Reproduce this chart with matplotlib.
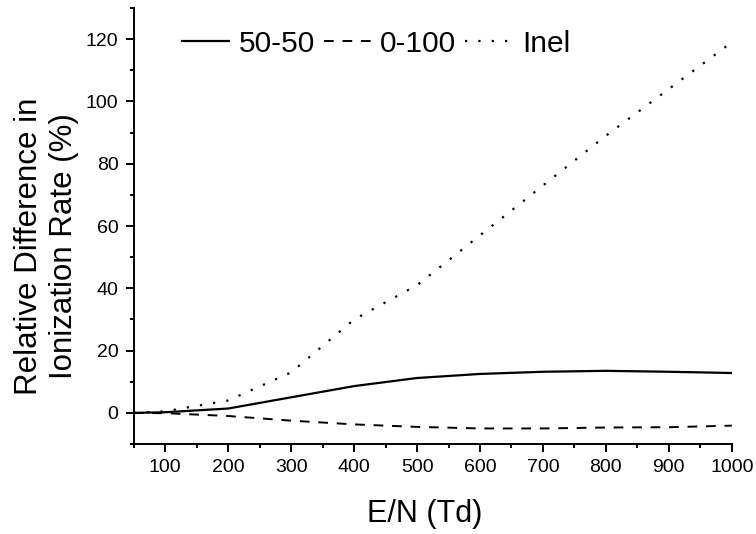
import numpy as np
import matplotlib
matplotlib.use('Agg')
import matplotlib.pyplot as plt
from matplotlib.ticker import MultipleLocator

plt.rcParams['font.family'] = ['Liberation Sans', 'DejaVu Sans']

# data
en = [50, 100, 200, 300, 400, 500, 600, 700, 800, 900, 1000]
mix_50_50 = [0, 0.2, 1.4, 5.0, 8.6, 11.2, 12.5, 13.2, 13.5, 13.2, 12.8]
mix_0_100 = [0, -0.1, -1.0, -2.5, -3.7, -4.5, -5.0, -5.0, -4.7, -4.6, -4.1]
inel = [0, 0.5, 4.0, 13.0, 30.0, 41.0, 57.0, 73.0, 89.0, 104.0, 119.0]

fig = plt.figure(figsize=(7.56, 5.34), dpi=100)
ax = fig.add_axes([0.177, 0.1685, 0.791, 0.8165])

ax.plot(en, mix_50_50, color='black', lw=1.6, linestyle='-', label='50-50')
ax.plot(en, mix_0_100, color='black', lw=1.4, linestyle=(0, (5, 4.5)), label='0-100')
ax.plot(en, inel, color='black', lw=1.6, linestyle=(0, (1, 5)), label='Inel')

ax.set_xlim(50, 1000)
ax.set_ylim(-10, 130)
ax.xaxis.set_minor_locator(MultipleLocator(50))
ax.yaxis.set_minor_locator(MultipleLocator(10))
ax.set_yticks([0, 20, 40, 60, 80, 100, 120])
ax.set_xticks(range(100, 1001, 100))

for s in ['top', 'right']:
    ax.spines[s].set_visible(False)
for s in ['left', 'bottom']:
    ax.spines[s].set_linewidth(1.4)

ax.tick_params(which='major', direction='out', length=6, width=1.4, labelsize=14, pad=5)
ax.tick_params(which='minor', direction='out', length=3, width=1.4)

ax.set_xlabel('E/N (Td)', fontsize=22)
ax.xaxis.set_label_coords(0.487, -0.125)
ax.set_ylabel('Relative Difference in\nIonization Rate (%)', fontsize=22.5)
ax.yaxis.set_label_coords(-0.092, 0.454)

ax.legend(loc='center left', bbox_to_anchor=(0.08, 0.918), ncol=3, frameon=False,
          fontsize=21.5, handlelength=1.6, handletextpad=0.3, columnspacing=0.3,
          borderaxespad=0, borderpad=0)

fig.savefig('out.png', dpi=100)
